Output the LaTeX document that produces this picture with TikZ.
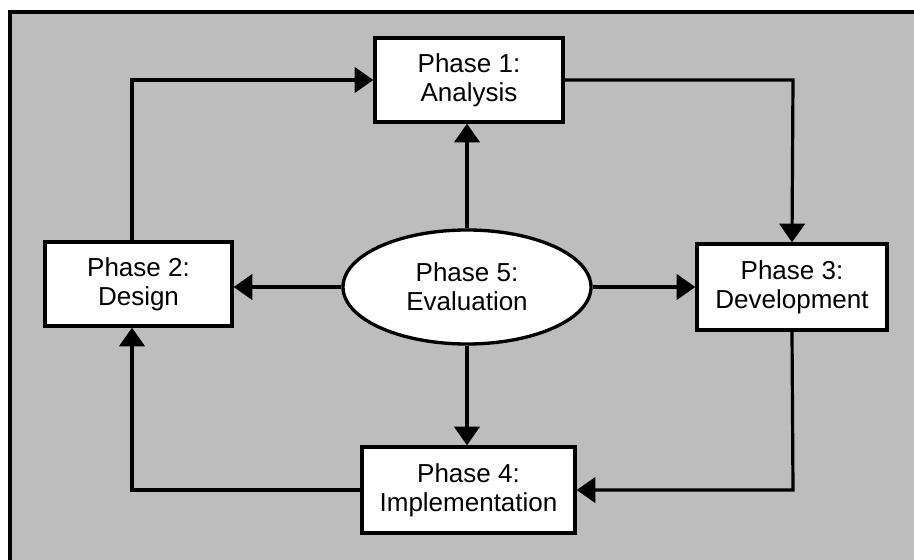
\documentclass[tikz,border=0pt]{standalone}
\usepackage{fontspec}
\setmainfont{Liberation Sans}
\usetikzlibrary{arrows.meta,shapes.geometric}
\definecolor{halftone}{gray}{0.74}
\tikzset{
  phasebox/.style={draw=black, fill=white, line width=2.5pt, inner sep=0pt, align=center,
    font=\fontsize{19.5}{21.5}\selectfont},
  phaseoval/.style={ellipse, draw=black, fill=white, line width=2.5pt, inner sep=0pt, align=center,
    font=\fontsize{19.5}{21.5}\selectfont},
  conn/.style={line width=2.4pt, -{Triangle[length=14pt,width=19pt]}},
}
\begin{document}
\begin{tikzpicture}[x=0.75pt,y=-0.75pt]
\useasboundingbox (0,0) rectangle (914,560);
\fill[white] (0,0) rectangle (914,560);
\fill[halftone] (10,12) rectangle (914,560);
\draw[line width=2.6pt] (10,561) -- (10,12) -- (915,12);

\node[phasebox, minimum width=188*0.75pt, minimum height=84*0.75pt] (p1) at (469,80) {Phase 1:\\Analysis};
\node[phasebox, minimum width=187*0.75pt, minimum height=84*0.75pt] (p2) at (138.5,284) {Phase 2:\\Design};
\node[phasebox, minimum width=190*0.75pt, minimum height=86*0.75pt] (p3) at (792,287) {Phase 3:\\Development};
\node[phasebox, minimum width=213*0.75pt, minimum height=86*0.75pt] (p4) at (468.5,490) {Phase 4:\\Implementation};
\node[phaseoval, minimum width=248*0.75pt, minimum height=114*0.75pt] (p5) at (467,287) {Phase 5:\\Evaluation};

\coordinate (c1) at (132,80);
\coordinate (c2) at (793,80);
\coordinate (c3) at (793,490);
\coordinate (c4) at (132,490);

% outer cycle
\draw[conn] (p2.north -| c1) -- (c1) -- (p1.west);
\draw[conn] (p1.east) -- (c2) -- (p3.north);
\draw[conn] (p3.south) -- (c3) -- (p4.east);
\draw[conn] (p4.west) -- (c4) -- (p2.south -| c1);

% from evaluation
\draw[conn] (p5.north) -- (p5.north |- p1.south);
\draw[conn] (p5.south) -- (p5.south |- p4.north);
\draw[conn] (p5.west) -- (p5.west -| p2.east);
\draw[conn] (p5.east) -- (p5.east -| p3.west);
\end{tikzpicture}
\end{document}
